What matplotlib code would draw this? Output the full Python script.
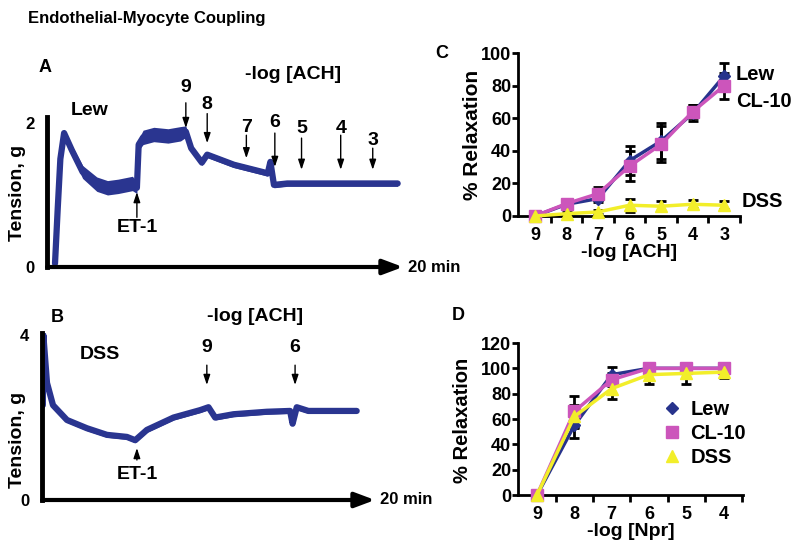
import numpy as np
import matplotlib
matplotlib.use("Agg")
import matplotlib.pyplot as plt
from matplotlib.lines import Line2D

plt.rcParams['font.family'] = ['Liberation Sans', 'DejaVu Sans']
plt.rcParams['font.weight'] = 'bold'
plt.rcParams['axes.labelweight'] = 'bold'

# trace A (Lew): time (min), tension (g), band half-width (g)
tA = [0.45, 0.6, 0.75, 0.96, 1.4, 2.0, 2.8, 3.4, 4.0, 4.8, 5.05, 5.15, 5.4, 6.0, 6.8, 7.5, 7.8,
      8.1, 8.7, 9.0, 10.5, 12.1, 12.4, 12.55, 12.75, 13.5, 19.7]
yA = [0.05, 0.8, 1.5, 1.86, 1.62, 1.32, 1.15, 1.1, 1.12, 1.16, 1.1, 1.7, 1.8, 1.84, 1.82, 1.85, 1.88,
      1.65, 1.45, 1.56, 1.42, 1.32, 1.3, 1.46, 1.14, 1.16, 1.16]
wA = [0.03, 0.03, 0.04, 0.05, 0.07, 0.09, 0.1, 0.1, 0.1, 0.1, 0.08, 0.08, 0.1, 0.1, 0.1, 0.1, 0.08,
      0.05, 0.04, 0.04, 0.04, 0.04, 0.04, 0.04, 0.04, 0.04, 0.04]

# trace B (DSS)
tB = [0.05, 0.08, 0.3, 0.66, 1.5, 2.7, 3.9, 5.1, 5.6, 6.3, 7.9, 9.5, 10.0, 10.4, 11.5, 13.5,
      14.9, 15.05, 15.3, 16.0, 18.9]
yB = [2.3, 4.0, 2.84, 2.3, 1.94, 1.74, 1.58, 1.53, 1.45, 1.7, 2.0, 2.18, 2.25, 2.0, 2.08, 2.14,
      2.16, 1.85, 2.25, 2.16, 2.16]
wB = 0.06

# arrow marks on traces: label, time, text height, arrow tail, arrow head
marksA = [('9', 7.8, 2.49, 2.28, 1.93), ('8', 9.0, 2.25, 2.13, 1.72), ('7', 11.2, 1.94, 1.83, 1.51),
          ('6', 12.8, 2.0, 1.86, 1.39), ('5', 14.3, 1.93, 1.79, 1.35), ('4', 16.5, 1.93, 1.83, 1.35),
          ('3', 18.3, 1.76, 1.65, 1.35)]
marksB = [('9', 9.9, 3.7, 3.27, 2.79), ('6', 15.2, 3.7, 3.27, 2.79)]

# panel C: % relaxation vs -log[ACH]
ach_labels = ['9', '8', '7', '6', '5', '4', '3']
c_lew = [0, 7.2, 10.7, 34, 46, 63, 86]
c_lew_err = [0, 2, 2, 9, 11, 5, 8]
c_cl10 = [0, 7.6, 13.7, 30.6, 44, 64, 80]
c_cl10_err = [0, 2.5, 4, 9, 11, 4, 8]
c_dss = [0, 1.4, 2.5, 6.6, 6, 7.2, 6.6]
c_dss_err = [0, 1, 1, 4, 3, 2.5, 2.5]

# panel D: % relaxation vs -log[Npr]
npr_labels = ['9', '8', '7', '6', '5', '4']
d_lew = [0, 55, 95, 100, 100, 100]
d_lew_err = [0, 10, 6, 4, 0, 0]
d_cl10 = [0, 66, 91, 100, 100, 100]
d_cl10_err = [0, 12, 5, 3, 0, 0]
d_dss = [0, 62, 84, 95, 96, 97]
d_dss_err = [0, 9, 8, 7, 8, 5]

series = [('Lew', 'D', '#27338C'), ('CL-10', 's', '#CC55BB'), ('DSS', '^', '#F2EE2A')]
trace_col = '#2A3590'

W, H = 800, 555
fig = plt.figure(figsize=(8, 5.55), dpi=100)


def box(l, r, b, t):
    return [l / W, 1 - b / H, (r - l) / W, (b - t) / H]


fig.text(28 / W, 1 - 18 / H, 'Endothelial-Myocyte Coupling', fontsize=12, va='center')


def trace_axes(pos, t, y, w, ymax, yticks, marks, et1, ytext_et1, name, name_pos, ach_pos):
    ax = fig.add_axes(pos)
    ax.fill_between(t, np.array(y) - np.array(w), np.array(y) + np.array(w), color=trace_col, lw=0)
    ax.plot(t, y, color=trace_col, lw=4.5, solid_joinstyle='round', solid_capstyle='round')
    ax.set_xlim(0, 20)
    ax.set_ylim(0, ymax)
    for s in ['top', 'right', 'bottom']:
        ax.spines[s].set_visible(False)
    ax.spines['left'].set_linewidth(3.5)
    ax.set_xticks([])
    ax.set_yticks(yticks, [str(v) for v in yticks])
    ax.tick_params(axis='y', length=0, pad=9, labelsize=12)
    ax.annotate('', xy=(20, 0), xytext=(0, 0), annotation_clip=False,
                arrowprops=dict(arrowstyle='-|>,head_length=0.8,head_width=0.3', lw=3, color='k',
                                mutation_scale=15, shrinkA=0, shrinkB=0))
    ax.text(20.3, 0, '20 min', fontsize=12, va='center', ha='left', clip_on=False)
    for lab, x, yt, y0, y1 in marks:
        ax.text(x, yt, lab, fontsize=14, ha='center', va='center')
        ax.annotate('', xy=(x, y1), xytext=(x, y0),
                    arrowprops=dict(arrowstyle='-|>,head_length=0.6,head_width=0.2', lw=1, color='k',
                                    mutation_scale=10, shrinkA=0, shrinkB=0))
    ax.annotate('', xy=(et1[0], et1[2]), xytext=(et1[0], et1[1]),
                arrowprops=dict(arrowstyle='-|>,head_length=0.6,head_width=0.2', lw=1, color='k',
                                mutation_scale=10, shrinkA=0, shrinkB=0))
    ax.text(et1[0], ytext_et1, 'ET-1', fontsize=14, ha='center', va='center')
    ax.text(name_pos[0], name_pos[1], name, fontsize=14, ha='center', va='center')
    ax.text(ach_pos[0], ach_pos[1], '-log [ACH]', fontsize=14, ha='center', va='center')
    return ax


axA = trace_axes(box(47, 403, 267, 117), tA, yA, wA, 2.083, [0, 2], marksA,
                 (5.05, 0.69, 1.04), 0.55, 'Lew', (2.4, 2.17), (13.8, 2.67))
fig.text(18 / W, 1 - 193 / H, 'Tension, g', fontsize=14, rotation=90, ha='center', va='center')
fig.text(45 / W, 1 - 68 / H, 'A', fontsize=13, ha='center', va='center')

axB = trace_axes(box(42, 375, 500, 333), tB, yB, [wB] * len(tB), 4.05, [0, 4], marksB,
                 (5.7, 0.97, 1.26), 0.63, 'DSS', (3.48, 3.52), (12.8, 4.44))
fig.text(18 / W, 1 - 440 / H, 'Tension, g', fontsize=14, rotation=90, ha='center', va='center')
fig.text(57 / W, 1 - 317 / H, 'B', fontsize=13, ha='center', va='center')


def curve_axes(pos, labels, data, xlim, ylim, yticks, xlabel):
    ax = fig.add_axes(pos)
    x = np.arange(len(labels))
    for (name, mk, col), (vals, err) in zip(series, data):
        ax.errorbar(x, vals, yerr=err, fmt='none', ecolor='k', elinewidth=2, capsize=3.5,
                    capthick=2, zorder=2, clip_on=False)
        ax.plot(x, vals, color=col, marker=mk, ms=8 if mk != 'D' else 6.5, lw=2.5,
                zorder=3, clip_on=False)
    ax.set_xlim(*xlim)
    ax.set_ylim(*ylim)
    for s in ['top', 'right']:
        ax.spines[s].set_visible(False)
    for s in ['left', 'bottom']:
        ax.spines[s].set_linewidth(2)
    ax.set_yticks(yticks, [str(v) for v in yticks])
    ax.set_xticks(np.arange(0.5, len(labels), 1), [''] * len(labels))
    ax.set_xticks(x, labels, minor=True)
    ax.tick_params(axis='x', which='major', length=5, width=2, direction='out')
    ax.tick_params(axis='x', which='minor', length=0, pad=8, labelsize=13)
    ax.tick_params(axis='y', length=4, width=2, pad=1, labelsize=13)
    ax.set_xlabel(xlabel, fontsize=14, labelpad=0)
    return ax


axC = curve_axes(box(518, 740, 216, 53), ach_labels,
                 [(c_lew, c_lew_err), (c_cl10, c_cl10_err), (c_dss, c_dss_err)],
                 (-0.54, 6.47), (0, 100), [0, 20, 40, 60, 80, 100], '-log [ACH]')
axC.text(6.37, 86.8, 'Lew', fontsize=14.5, va='center', ha='left', clip_on=False)
axC.text(6.37, 70, 'CL-10', fontsize=14.5, va='center', ha='left', clip_on=False)
axC.text(6.56, 8.6, 'DSS', fontsize=14.5, va='center', ha='left', clip_on=False)
fig.text(472 / W, 1 - 135 / H, '% Relaxation', fontsize=15, rotation=90, ha='center', va='center')
fig.text(442 / W, 1 - 53 / H, 'C', fontsize=13, ha='center', va='center')

axD = curve_axes(box(518, 743, 495, 343), npr_labels,
                 [(d_lew, d_lew_err), (d_cl10, d_cl10_err), (d_dss, d_dss_err)],
                 (-0.51, 5.52), (0, 120), [0, 20, 40, 60, 80, 100, 120], '-log [Npr]')
handles = [Line2D([], [], color=col, marker=mk, ls='none', ms=8 if mk != 'D' else 6.5)
           for name, mk, col in series]
axD.legend(handles, [s[0] for s in series], loc='upper left', bbox_to_anchor=(652 / W, 1 - 390 / H),
           bbox_transform=fig.transFigure, frameon=False, fontsize=14.5, handlelength=1,
           handletextpad=0.4, labelspacing=0.25, borderpad=0)
fig.text(463 / W, 1 - 420 / H, '% Relaxation', fontsize=14.5, rotation=90, ha='center', va='center')
fig.text(458 / W, 1 - 315 / H, 'D', fontsize=13, ha='center', va='center')

fig.savefig('out.png', dpi=100)
